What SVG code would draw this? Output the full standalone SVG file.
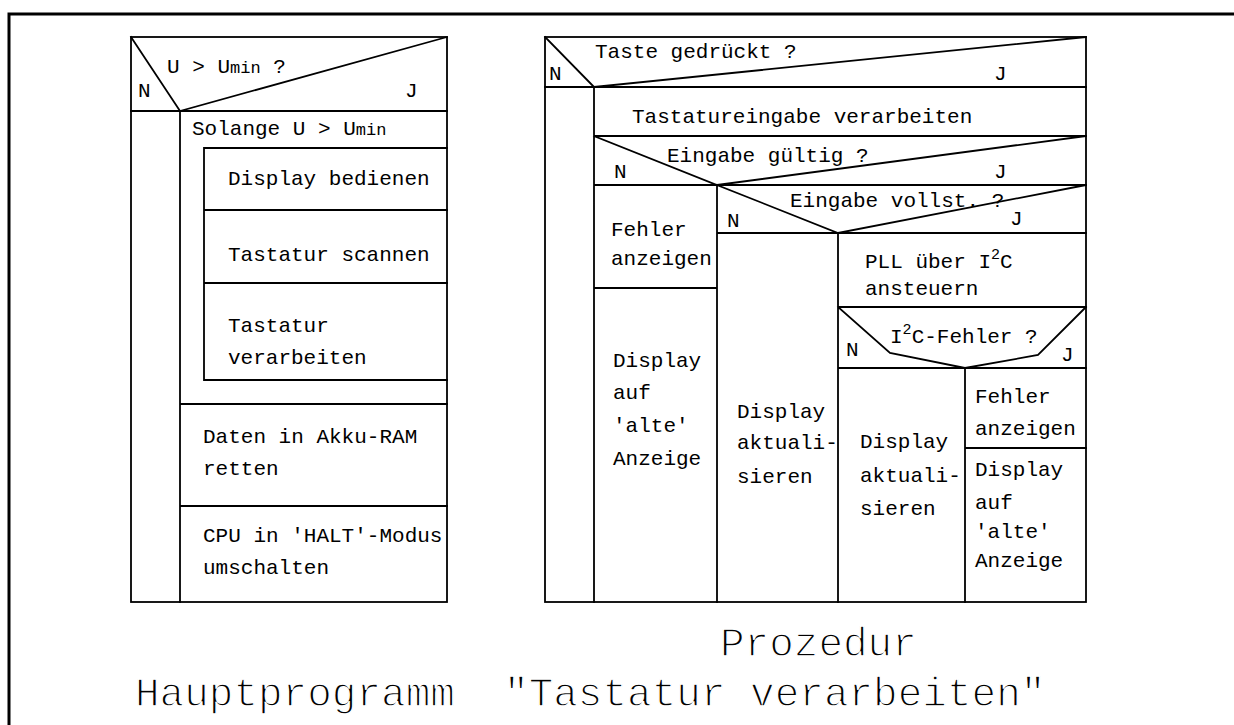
<svg xmlns="http://www.w3.org/2000/svg" width="1234" height="725" viewBox="0 0 1234 725">
<style>
.ln{stroke:#000;stroke-width:1.8;fill:none;stroke-linecap:square}
.fr{stroke:#000;stroke-width:3;fill:none}
.t{font-family:"Liberation Mono","DejaVu Sans Mono",monospace;font-size:21px;fill:#000}
.cap{font-family:"Liberation Mono","DejaVu Sans Mono",monospace;font-size:41px;fill:#000;stroke:#fff;stroke-width:1.4}
.sup{font-size:15px}
</style>
<rect width="1234" height="725" fill="#fff"/>
<g id="frame"><path class="fr" d="M9,725 V14 H1234"/></g>

<g id="connectors">
<rect class="ln" x="131" y="37" width="316" height="565"/>
<path class="ln" d="M131,37 L180,111 L447,37 M131,111 H447 M180,111 V602 M204,148 H447 M204,148 V380 M204,210 H447 M204,283 H447 M204,380 H447 M180,404 H447 M180,506 H447"/>
<rect class="ln" x="545" y="37" width="541" height="565"/>
<path class="ln" d="M545,37 L594,87 L1086,37 M545,87 H1086 M594,87 V602 M594,136 H1086 M594,136 L717,185 L1086,136 M594,185 H1086 M717,185 V602 M594,288 H717 M717,185 L838,233 L1086,185 M717,233 H1086 M838,233 V602 M838,307 H1086 M838,307 L890,353 L965,368 L1038,355 L1086,307 M838,368 H1086 M965,368 V602 M965,448 H1086"/>
</g>

<g id="L-decision"><text class="t" x="167" y="73">U &gt; U<tspan font-size="17">min</tspan> ?</text><text class="t" x="138" y="97">N</text><text class="t" x="405" y="97">J</text></g>
<g id="L-loop"><text class="t" x="192" y="135">Solange U &gt; U<tspan font-size="17">min</tspan></text></g>
<g id="L-display"><text class="t" x="228" y="185">Display bedienen</text></g>
<g id="L-scan"><text class="t" x="228" y="261">Tastatur scannen</text></g>
<g id="L-verarb"><text class="t" x="228" y="332">Tastatur</text><text class="t" x="228" y="364">verarbeiten</text></g>
<g id="L-daten"><text class="t" x="203" y="443">Daten in Akku-RAM</text><text class="t" x="203" y="475">retten</text></g>
<g id="L-cpu"><text class="t" x="203" y="542">CPU in 'HALT'-Modus</text><text class="t" x="203" y="574">umschalten</text></g>

<g id="R-taste"><text class="t" x="595" y="58">Taste gedrückt ?</text><text class="t" x="549" y="80">N</text><text class="t" x="994" y="80">J</text></g>
<g id="R-eingabe"><text class="t" x="632" y="123">Tastatureingabe verarbeiten</text></g>
<g id="R-gueltig"><text class="t" x="667" y="162">Eingabe gültig ?</text><text class="t" x="614" y="178">N</text><text class="t" x="994" y="178">J</text></g>
<g id="R-fehler1"><text class="t" x="611" y="236">Fehler</text><text class="t" x="611" y="265">anzeigen</text></g>
<g id="R-alt1"><text class="t" x="613" y="367">Display</text><text class="t" x="613" y="399">auf</text><text class="t" x="613" y="432">'alte'</text><text class="t" x="613" y="465">Anzeige</text></g>
<g id="R-vollst"><text class="t" x="790" y="207">Eingabe vollst. ?</text><text class="t" x="727" y="227">N</text><text class="t" x="1010" y="225">J</text></g>
<g id="R-akt1"><text class="t" x="737" y="418">Display</text><text class="t" x="737" y="449">aktuali-</text><text class="t" x="737" y="483">sieren</text></g>
<g id="R-pll"><text class="t" x="865" y="268">PLL über I<tspan class="sup" dy="-9">2</tspan><tspan dy="9">C</tspan></text><text class="t" x="865" y="295">ansteuern</text></g>
<g id="R-i2c"><text class="t" x="890" y="343">I<tspan class="sup" dy="-9">2</tspan><tspan dy="9">C-Fehler ?</tspan></text><text class="t" x="846" y="356">N</text><text class="t" x="1061" y="361">J</text></g>
<g id="R-akt2"><text class="t" x="860" y="448">Display</text><text class="t" x="860" y="482">aktuali-</text><text class="t" x="860" y="515">sieren</text></g>
<g id="R-fehler2"><text class="t" x="975" y="403">Fehler</text><text class="t" x="975" y="435">anzeigen</text></g>
<g id="R-alt2"><text class="t" x="975" y="476">Display</text><text class="t" x="975" y="509">auf</text><text class="t" x="975" y="538">'alte'</text><text class="t" x="975" y="567">Anzeige</text></g>

<g id="captions"><text class="cap" x="720" y="656">Prozedur</text><text class="cap" x="135" y="706" xml:space="preserve">Hauptprogramm  "Tastatur verarbeiten"</text></g>
</svg>
